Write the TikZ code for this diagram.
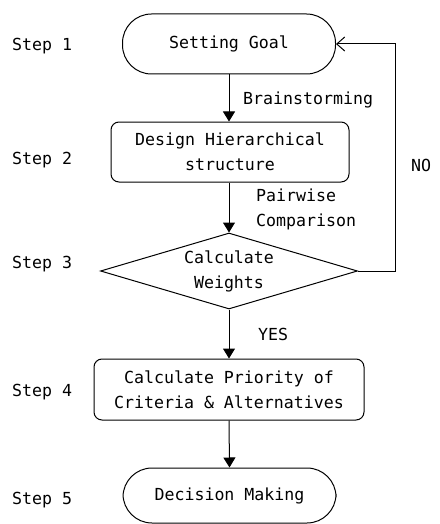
\documentclass[tikz,border=0pt]{standalone}
\usepackage{fontspec}
\setmainfont{DejaVu Sans Mono}
\usetikzlibrary{shapes.geometric,arrows.meta}
\begin{document}
\begin{tikzpicture}[x=1pt,y=-1pt,
  every node/.style={font=\fontsize{16.6}{25}\selectfont, inner sep=0pt},
  term/.style={draw, line width=1pt, rounded corners=29pt, align=center},
  proc/.style={draw, line width=1pt, rounded corners=8pt, align=center},
  dec/.style={draw, line width=1pt, diamond, aspect=3.4, align=center},
  lbl/.style={anchor=west, align=left},
  flow/.style={line width=1pt, -{Triangle[width=12pt,length=10pt]}},
  back/.style={line width=1pt, -{Straight Barb[width=14pt,length=8pt,line width=1pt]}}
]
\useasboundingbox[fill=white] (0,0) rectangle (439,524);
\node[term, minimum width=213pt, minimum height=60pt] (s1) at (229,44) {Setting Goal};
\node[proc, minimum width=238pt, minimum height=60pt] (s2) at (230,152) {Design Hierarchical\\structure};
\node[dec, minimum width=257pt, minimum height=76pt] (s3) at (229,271) {Calculate\\Weights};
\node[proc, minimum width=270pt, minimum height=61pt] (s4) at (229,389.5) {Calculate Priority of\\Criteria \& Alternatives};
\node[term, minimum width=213pt, minimum height=55pt] (s5) at (229.5,495.5) {Decision Making};

\node[lbl] (l1) at (12,46) {Step 1};
\node[lbl] (l2) at (12,160) {Step 2};
\node[lbl] (l3) at (12,264) {Step 3};
\node[lbl] (l4) at (12,392) {Step 4};
\node[lbl] (l5) at (12,500) {Step 5};

\node[lbl] (bs) at (243,100) {Brainstorming};
\node[lbl] (pc) at (256,209.5) {Pairwise\\Comparison};
\node[lbl] (yes) at (258,334) {YES};
\node[lbl] (no) at (411,165) {NO};

\coordinate (c1) at (395,271);
\coordinate (c2) at (395,44);

\draw[flow] (s1.south -| 229,0) -- (s2.north -| 229,0);
\draw[flow] (s2.south -| 229,0) -- (s3.north);
\draw[flow] (s3.south) -- (s4.north);
\draw[flow] (s4.south) -- (s5.north);
\draw[back] (s3.east) -- (c1) -- (c2) -- (s1.east);
\end{tikzpicture}
\end{document}
